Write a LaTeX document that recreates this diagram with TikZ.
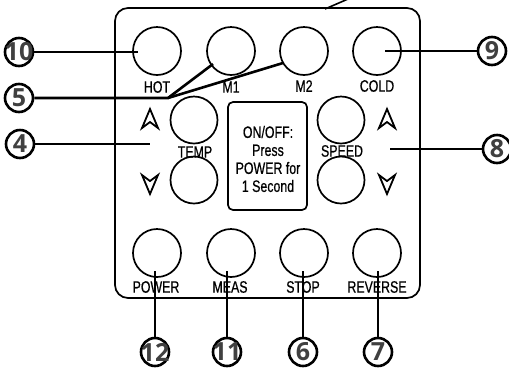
\documentclass[tikz,border=0pt]{standalone}
\usepackage{fontspec}
\setmainfont{Liberation Sans}[FakeStretch=0.75,FakeBold=0.6]
\newfontfamily\numfont{Open Sans}
\definecolor{numgray}{HTML}{404040}
\begin{document}
\begin{tikzpicture}[x=1pt,y=-1pt,
  btn/.style={circle,draw,line width=1.7pt,minimum size=48pt,inner sep=0pt},
  lbl/.style={font=\fontsize{16.5}{18}\selectfont,inner sep=0pt},
  callout/.style={circle,draw,line width=2.6pt,minimum size=28pt,inner sep=0pt},
  numtxt/.style={font=\numfont\bfseries\fontsize{25}{25}\selectfont,text=numgray,inner sep=0pt},
  lead/.style={line width=2.6pt},
  uparr/.pic={\draw[line width=1.8pt,line join=miter] (0,-10) -- (8,9) -- (0,3) -- (-8,9) -- cycle;},
  dnarr/.pic={\draw[line width=1.8pt,line join=miter] (0,10) -- (8,-9) -- (0,-3) -- (-8,-9) -- cycle;}
]
\useasboundingbox (0,0) rectangle (509,368);
% panel
\node[draw,line width=1.7pt,rounded corners=13pt,minimum width=305pt,minimum height=290pt,inner sep=0pt] (panel) at (267.5,153) {};
% top row
\node[btn] (hot) at (157,51) {};
\node[btn] (m1) at (231,51) {};
\node[btn] (m2) at (304,51) {};
\node[btn] (cold) at (377,51) {};
\node[lbl] (lhot) at (157,87) {HOT};
\node[lbl] (lm1) at (231,87) {M1};
\node[lbl] (lm2) at (304,86) {M2};
\node[lbl] (lcold) at (377,86) {COLD};
% middle
\node[btn,minimum size=47pt] (tup) at (194,120) {};
\node[btn,minimum size=47pt] (tdn) at (194,180) {};
\node[btn,minimum size=47pt] (sup) at (341,120) {};
\node[btn,minimum size=47pt] (sdn) at (341,180) {};
\node[lbl] (ltemp) at (195,152) {TEMP};
\node[lbl] (lspeed) at (342,151) {SPEED};
\pic at (150,119) {uparr};
\pic at (150,184) {dnarr};
\pic at (387,119) {uparr};
\pic at (387,184) {dnarr};
\node[draw,line width=1.7pt,rounded corners=5pt,minimum width=79pt,minimum height=108pt,inner sep=0pt] (info) at (267.5,156) {};
\node[lbl,align=center] (infotxt) at (268,159) {ON/OFF:\\Press\\POWER for\\1 Second};
% bottom row
\node[btn] (power) at (157,253) {};
\node[btn] (meas) at (231,253) {};
\node[btn] (stop) at (304,253) {};
\node[btn] (rev) at (377,253) {};
\node[lbl] (lpower) at (156,287) {POWER};
\node[lbl] (lmeas) at (230,287) {MEAS};
\node[lbl] (lstop) at (303,287) {STOP};
\node[lbl] (lrev) at (377,287) {REVERSE};
% callouts
\node[callout] (c10) at (19,52) {};  \node[numtxt] at (c10) {10};
\node[callout] (c5) at (19,98) {};   \node[numtxt] at (c5) {5};
\node[callout] (c4) at (20,144) {};  \node[numtxt] at (c4) {4};
\node[callout] (c9) at (492,51) {};  \node[numtxt] at (c9) {9};
\node[callout] (c8) at (497,149) {}; \node[numtxt] at (c8) {8};
\node[callout] (c12) at (155,352) {}; \node[numtxt] at (c12) {12};
\node[callout] (c11) at (227,352) {}; \node[numtxt] at (c11) {11};
\node[callout] (c6) at (303,352) {};  \node[numtxt] at (c6) {6};
\node[callout] (c7) at (378,352) {};  \node[numtxt] at (c7) {7};
% leader end points
\coordinate (e10) at (138,52);
\coordinate (j5) at (168,98);
\coordinate (e5a) at (213,64);
\coordinate (e5b) at (283,63);
\coordinate (e4) at (150,144);
\coordinate (e9) at (385,51);
\coordinate (e8) at (390,149);
\coordinate (e12) at (155,271);
\coordinate (e11) at (227,271);
\coordinate (e6) at (303,271);
\coordinate (e7) at (378,271);
\coordinate (t1) at (325,9);
\coordinate (t2) at (348,-1);
% leaders
\draw[lead] (c10) -- (e10);
\draw[lead] (c5) -- (j5) -- (e5a);
\draw[lead] (j5) -- (e5b);
\draw[lead] (c4) -- (e4);
\draw[lead] (c9) -- (e9);
\draw[lead] (c8) -- (e8);
\draw[lead] (c12) -- (e12);
\draw[lead] (c11) -- (e11);
\draw[lead] (c6) -- (e6);
\draw[lead] (c7) -- (e7);
\draw[line width=1.6pt] (t1) -- (t2);
\end{tikzpicture}
\end{document}
